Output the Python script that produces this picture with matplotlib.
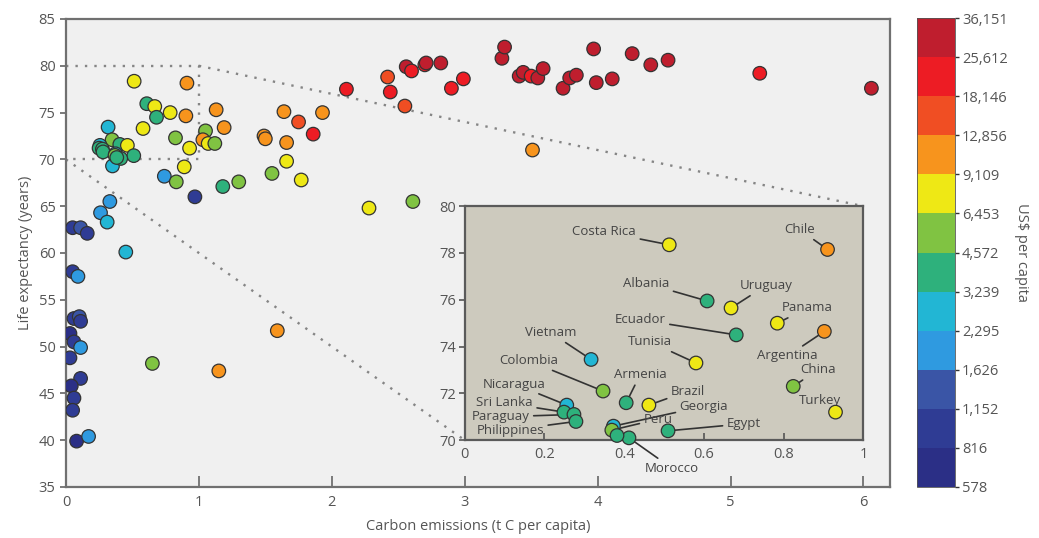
import matplotlib
matplotlib.use("Agg")
import matplotlib.pyplot as plt
from matplotlib.colors import ListedColormap, BoundaryNorm
from matplotlib.cm import ScalarMappable

plt.rcParams['font.family'] = ['Open Sans', 'DejaVu Sans']

# colour classes, US$ per capita
gdp_edges = [578, 816, 1152, 1626, 2295, 3239, 4572, 6453, 9109,
             12856, 18146, 25612, 36151]
bin_colors = ['#2b2f86', '#2f3c94', '#3a55a6', '#2f9ae0', '#22b6d4', '#2eb17c',
              '#80c342', '#eee815', '#f7941d', '#f04e23', '#ed1c24', '#bf1e2e']

# countries shown only in the main panel
emissions = [2.11, 2.42, 2.44, 2.55, 2.56, 2.60, 2.70, 2.71, 2.82, 2.90, 2.99,
             3.28, 3.30, 3.41, 3.44, 3.50, 3.55, 3.59, 3.74, 3.79, 3.84, 3.97,
             3.99, 4.11, 4.26, 4.40, 4.53, 5.22, 6.06, 3.51,
             1.05, 1.13, 1.19, 1.03, 1.07, 1.12, 0.89, 0.74, 0.83, 0.97, 1.18,
             1.30, 1.49, 1.50, 1.55, 1.64, 1.66, 1.66, 1.75, 1.77, 1.86, 1.93,
             2.28, 2.61, 0.35,
             0.33, 0.26, 0.31, 0.05, 0.11, 0.16, 0.45, 0.05, 0.09, 0.06, 0.10,
             0.11, 0.03, 0.06, 0.11, 0.03, 0.11, 0.04, 0.06, 0.05, 0.08, 0.17,
             0.65, 1.15, 1.59]
life_exp = [77.5, 78.8, 77.2, 75.7, 79.9, 79.45, 80.1, 80.3, 80.3, 77.6, 78.6,
            80.8, 82.0, 78.9, 79.3, 78.9, 78.7, 79.7, 77.6, 78.7, 79.0, 81.8,
            78.2, 78.6, 81.3, 80.1, 80.6, 79.2, 77.6, 71.0,
            73.05, 75.3, 73.4, 72.1, 71.7, 71.7, 69.2, 68.2, 67.6, 66.0, 67.1,
            67.6, 72.5, 72.2, 68.5, 75.1, 71.8, 69.8, 74.0, 67.8, 72.7, 75.0,
            64.8, 65.5, 69.3,
            65.5, 64.3, 63.3, 62.7, 62.7, 62.1, 60.1, 58.0, 57.5, 53.0, 53.2,
            52.7, 51.4, 50.5, 49.9, 48.8, 46.6, 45.8, 44.5, 43.2, 39.9, 40.4,
            48.2, 47.4, 51.7]
gdp = [22000, 15500, 22000, 15500, 31000, 22000, 22000, 31000, 31000, 22000, 22000,
       31000, 31000, 31000, 31000, 22000, 31000, 31000, 31000, 31000, 31000, 31000,
       31000, 31000, 31000, 31000, 31000, 22000, 31000, 11000,
       5500, 11000, 11000, 11000, 7800, 5500, 7800, 1900, 5500, 1000, 3900,
       5500, 11000, 11000, 5500, 11000, 11000, 7800, 15500, 7800, 22000, 11000,
       7800, 5500, 2700,
       1900, 1900, 2700, 1000, 1400, 1000, 2700, 1000, 1900, 1000, 1400,
       1000, 700, 1000, 1900, 1000, 1000, 700, 1000, 1000, 700, 1900,
       5500, 11000, 11000]

# countries inside the zoomed box (0-1 t C, 70-80 years)
zoom_names = ['Costa Rica', 'Chile', 'Albania', 'Uruguay', 'Ecuador', 'Panama',
              'Argentina', 'Vietnam', 'Tunisia', 'China', 'Colombia', 'Armenia',
              'Brazil', 'Turkey', 'Nicaragua', 'Sri Lanka', 'Paraguay',
              'Philippines', 'Georgia', 'Peru', 'Egypt', 'Morocco', '']
zoom_emissions = [0.513, 0.91, 0.608, 0.668, 0.681, 0.784, 0.902, 0.317, 0.58,
                  0.824, 0.347, 0.405, 0.462, 0.93, 0.256, 0.249, 0.274, 0.279,
                  0.373, 0.369, 0.51, 0.412, 0.382]
zoom_life = [78.35, 78.15, 75.95, 75.65, 74.5, 75.0, 74.65, 73.45, 73.3, 72.3,
             72.1, 71.6, 71.5, 71.2, 71.5, 71.2, 71.1, 70.8, 70.6, 70.43, 70.4,
             70.1, 70.2]
zoom_gdp = [7800, 11000, 3900, 7800, 3900, 7800, 11000, 2700, 7800, 5500, 5500,
            3900, 7800, 7800, 2700, 3900, 3900, 3900, 2700, 5500, 3900, 3900, 3900]

# where each name is written in the inset
label_pos = {'Costa Rica': (0.35, 78.9), 'Chile': (0.84, 79.0),
             'Albania': (0.455, 76.7), 'Uruguay': (0.755, 76.6),
             'Ecuador': (0.44, 75.15), 'Panama': (0.86, 75.65),
             'Argentina': (0.81, 73.6), 'Vietnam': (0.215, 74.6),
             'Tunisia': (0.465, 74.2), 'China': (0.885, 73.0),
             'Colombia': (0.16, 73.4), 'Armenia': (0.44, 72.8),
             'Brazil': (0.56, 72.1), 'Turkey': (0.89, 71.7),
             'Nicaragua': (0.125, 72.4), 'Sri Lanka': (0.10, 71.6),
             'Paraguay': (0.09, 71.0), 'Philippines': (0.114, 70.43),
             'Georgia': (0.60, 71.45), 'Peru': (0.485, 70.9),
             'Egypt': (0.70, 70.7), 'Morocco': (0.52, 68.8)}

cmap = ListedColormap(bin_colors)
norm = BoundaryNorm(gdp_edges, cmap.N)
txt = '#555555'
spine = '#707070'

fig = plt.figure(figsize=(10.39, 5.38), dpi=100)
ax = fig.add_axes([0.0635, 0.0948, 0.7931, 0.8699])
ax.set_facecolor('#f0f0f0')

ax.scatter(emissions + zoom_emissions, life_exp + zoom_life, c=gdp + zoom_gdp,
           cmap=cmap, norm=norm, s=95, edgecolors='#333333', linewidths=0.9,
           zorder=3)

ax.set_xlim(0, 6.2)
ax.set_ylim(35, 85)
ax.set_xticks(range(7))
ax.set_yticks(range(35, 90, 5))
ax.tick_params(axis='x', direction='in', length=8, width=1.3, colors=spine,
               labelcolor=txt, labelsize=10.5, pad=6)
ax.tick_params(axis='y', direction='out', length=4, width=1.3, colors=spine,
               labelcolor=txt, labelsize=10.5)
for s in ax.spines.values():
    s.set_color(spine)
    s.set_linewidth(1.6)
ax.set_xlabel('Carbon emissions (t C per capita)', color=txt, fontsize=10.5,
              labelpad=6)
ax.set_ylabel('Life expectancy (years)', color=txt, fontsize=10.5)

# zoom box and the inset it maps to
box_x, box_y = (0, 1), (70, 80)
ins_x, ins_y = (3, 6), (40, 65)
dot = dict(color='#858585', linestyle=(0, (1, 3)), linewidth=1.7, zorder=2)
ax.plot([box_x[0], box_x[1], box_x[1], box_x[0]],
        [box_y[1], box_y[1], box_y[0], box_y[0]], **dot)
ax.plot([box_x[1], ins_x[1]], [box_y[1], ins_y[1]], **dot)
ax.plot([box_x[0], ins_x[0]], [box_y[0], ins_y[0]], **dot)

axins = ax.inset_axes([ins_x[0], ins_y[0], ins_x[1] - ins_x[0], ins_y[1] - ins_y[0]],
                      transform=ax.transData, zorder=5)
axins.set_facecolor('#cdcabe')
axins.scatter(zoom_emissions, zoom_life, c=zoom_gdp, cmap=cmap, norm=norm, s=95,
              edgecolors='#333333', linewidths=0.9, zorder=4, clip_on=False)
axins.set_xlim(*box_x)
axins.set_ylim(*box_y)
axins.set_xticks([0, 0.2, 0.4, 0.6, 0.8, 1])
axins.set_xticklabels(['0', '0.2', '0.4', '0.6', '0.8', '1'])
axins.set_yticks(range(70, 81, 2))
axins.tick_params(axis='x', direction='in', length=5, width=1.2, colors='#555555',
                  labelcolor=txt, labelsize=10.5, pad=5)
axins.tick_params(axis='y', direction='out', length=4, width=1.2, colors='#555555',
                  labelcolor=txt, labelsize=10.5, pad=2)
for s in axins.spines.values():
    s.set_color('#5a5a5a')
    s.set_linewidth(1.6)

for name, px, py in zip(zoom_names, zoom_emissions, zoom_life):
    if not name:
        continue
    axins.annotate(name, xy=(px, py), xytext=label_pos[name], ha='center',
                   va='center', fontsize=9.5, color='#444444',
                   annotation_clip=False,
                   arrowprops=dict(arrowstyle='-', color='#333333', lw=1.2,
                                   shrinkA=1, shrinkB=0))

# colour bar
cax = fig.add_axes([0.8826, 0.0948, 0.0366, 0.8717])
cb = fig.colorbar(ScalarMappable(norm=norm, cmap=cmap), cax=cax, ticks=gdp_edges,
                  spacing='uniform')
cb.ax.set_yticklabels([f'{v:,}' for v in gdp_edges])
cb.ax.tick_params(length=3, width=1, colors='#333333', labelcolor=txt,
                  labelsize=10.5, pad=2)
cb.outline.set_linewidth(0.6)
cb.outline.set_edgecolor('#555555')
cb.set_label('US$ per capita', rotation=270, color=txt, fontsize=10.5, labelpad=15)

plt.savefig('out.png', dpi=100)
